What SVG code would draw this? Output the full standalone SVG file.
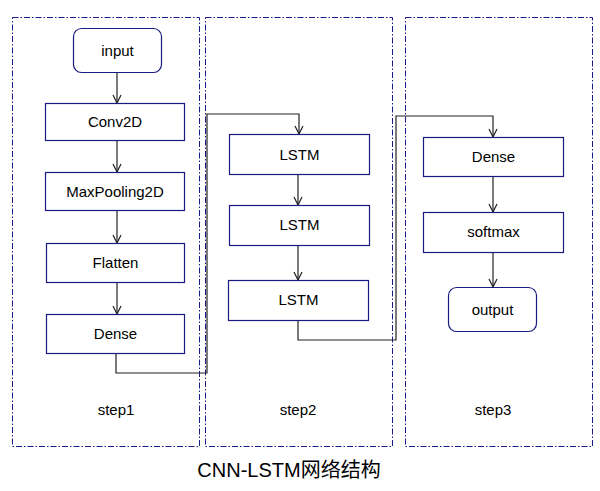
<svg xmlns="http://www.w3.org/2000/svg" width="600" height="491" viewBox="0 0 600 491">
<style>
.frame{fill:none;stroke:#1a1a8c;stroke-width:1;stroke-dasharray:6 2 1.5 2}
.node{fill:#fff;stroke:#1a1a80;stroke-width:1.2}
.lbl{font-family:"Liberation Sans",Arial,sans-serif;font-size:15px;fill:#000;text-anchor:middle;dominant-baseline:central}
.edge{fill:none;stroke:#222;stroke-width:1.2}
</style>
<defs>
<marker id="arr" viewBox="0 0 10 10" refX="9" refY="5" markerWidth="10" markerHeight="10" markerUnits="userSpaceOnUse" orient="auto">
<path d="M1,1 L9,5 L1,9" fill="none" stroke="#222" stroke-width="1.2"/>
</marker>
</defs>
<rect fill="#fff" x="0" y="0" width="600" height="491"/>
<g id="frames">
<rect class="frame" x="12.5" y="17.5" width="187" height="429"/>
<rect class="frame" x="205.5" y="17.5" width="187" height="429"/>
<rect class="frame" x="405.5" y="17.5" width="187" height="429"/>
</g>
<g id="connectors">
<path class="edge" marker-end="url(#arr)" d="M117,72 V103"/>
<path class="edge" marker-end="url(#arr)" d="M117,141 V172"/>
<path class="edge" marker-end="url(#arr)" d="M117,211 V243"/>
<path class="edge" marker-end="url(#arr)" d="M117,282 V314"/>
<path class="edge" marker-end="url(#arr)" d="M116,353 V373 H207 V114 H299 V134"/>
<path class="edge" marker-end="url(#arr)" d="M298,174 V205"/>
<path class="edge" marker-end="url(#arr)" d="M298,245 V280"/>
<path class="edge" marker-end="url(#arr)" d="M298,320 V340 H396 V116 H493 V137"/>
<path class="edge" marker-end="url(#arr)" d="M493,176 V212"/>
<path class="edge" marker-end="url(#arr)" d="M493,252 V287"/>
</g>
<g id="input"><rect class="node" x="73.5" y="28.5" width="88" height="44" rx="8"/><text class="lbl" x="117.5" y="50">input</text></g>
<g id="conv2d"><rect class="node" x="45.5" y="103.5" width="139" height="37"/><text class="lbl" x="115" y="121">Conv2D</text></g>
<g id="maxpool"><rect class="node" x="45.5" y="172.5" width="139" height="38"/><text class="lbl" x="115" y="191">MaxPooling2D</text></g>
<g id="flatten"><rect class="node" x="46.5" y="243.5" width="138" height="39"/><text class="lbl" x="115.5" y="262">Flatten</text></g>
<g id="dense1"><rect class="node" x="46.5" y="314.5" width="138" height="39"/><text class="lbl" x="115.5" y="333">Dense</text></g>
<g id="lstm1"><rect class="node" x="229.5" y="134.5" width="140" height="40"/><text class="lbl" x="299.5" y="154">LSTM</text></g>
<g id="lstm2"><rect class="node" x="229.5" y="205.5" width="140" height="40"/><text class="lbl" x="299.5" y="224">LSTM</text></g>
<g id="lstm3"><rect class="node" x="228.5" y="280.5" width="140" height="40"/><text class="lbl" x="298.5" y="299">LSTM</text></g>
<g id="dense2"><rect class="node" x="423.5" y="137.5" width="140" height="39"/><text class="lbl" x="493.5" y="156">Dense</text></g>
<g id="softmax"><rect class="node" x="423.5" y="212.5" width="140" height="40"/><text class="lbl" x="493.5" y="231">softmax</text></g>
<g id="output"><rect class="node" x="448.5" y="287.5" width="88" height="44" rx="8"/><text class="lbl" x="492.5" y="309">output</text></g>
<g id="labels">
<text class="lbl" x="116" y="409">step1</text>
<text class="lbl" x="298" y="409">step2</text>
<text class="lbl" x="493" y="409">step3</text>
<text x="289" y="470" font-family="'Liberation Sans','Noto Sans CJK SC',sans-serif" font-size="20" text-anchor="middle" dominant-baseline="central">CNN-LSTM网络结构</text>
</g>
</svg>
